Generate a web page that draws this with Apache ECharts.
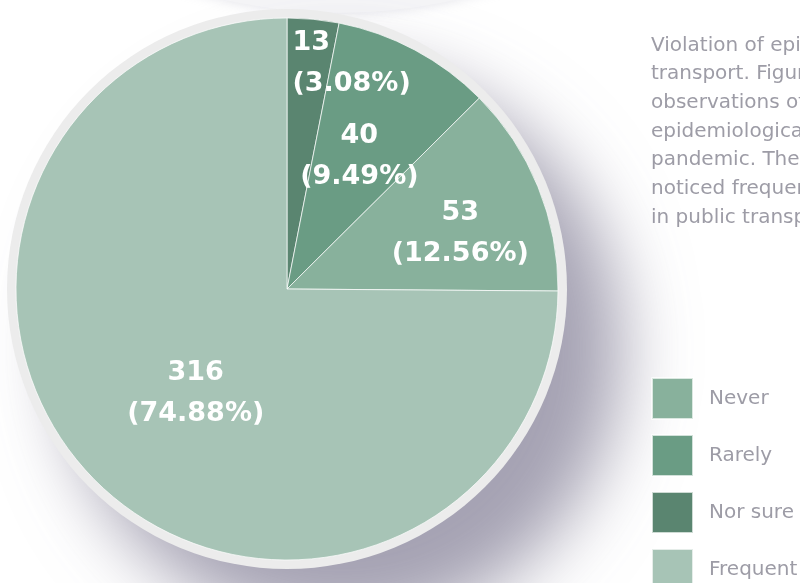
<!DOCTYPE html>
<html>
<head>
<meta charset="utf-8">
<script src="https://cdn.jsdelivr.net/npm/echarts@6/dist/echarts.min.js"></script>
<style>
  html, body { margin: 0; padding: 0; background: #ffffff; }
  #chart { width: 800px; height: 583px; }
</style>
</head>
<body>
<div id="chart"></div>
<script>
// Categories in drawing order (clockwise from 12 o'clock)
const categories = ['Nor sure', 'Rarely', 'Never', 'Frequent'];
const counts = [13, 40, 53, 316];
const percents = ['3.08', '9.49', '12.56', '74.88'];
const colors = ['#5a8570', '#6a9c84', '#88b19c', '#a7c4b6'];
// Legend order
const legendOrder = ['Never', 'Rarely', 'Nor sure', 'Frequent'];
// Per-slice label nudges away from the default inside spot
const labelOffsets = [[-8, -88], [7, -10], [45, -3], [7, 7]];
const labelAligns = ['left', 'center', 'center', 'center'];

const paragraph = [
  'Violation of epidemiological measures in public',
  'transport. Figure shows the respondents\'',
  'observations of violations of the',
  'epidemiological measures during the',
  'pandemic. The majority of respondents',
  'noticed frequent violations of the measures',
  'in public transport.'
];

const CENTER = [287, 289];
const BODY_FONT = '"DejaVu Sans", Verdana, sans-serif';

const chart = echarts.init(document.getElementById('chart'), null, { renderer: 'canvas' });

chart.setOption({
  animation: false,
  backgroundColor: '#ffffff',
  legend: {
    orient: 'vertical',
    left: 651,
    top: 377,
    height: 260,
    padding: 0,
    itemWidth: 41,
    itemHeight: 41,
    itemGap: 14,
    icon: 'rect',
    selectedMode: false,
    data: legendOrder,
    textStyle: {
      color: '#9d9ca6',
      fontSize: 20,
      fontFamily: BODY_FONT,
      padding: [0, 0, 0, 11]
    }
  },
  graphic: [
    {
      // pale decorative disc peeking in at the top edge
      type: 'circle',
      silent: true,
      z: -1,
      shape: { cx: 340, cy: -502, r: 515 },
      style: {
        fill: '#f5f5f7',
        shadowBlur: 12,
        shadowColor: 'rgba(220,220,228,0.8)'
      }
    },
    {
      type: 'text',
      left: 651,
      top: 31,
      silent: true,
      style: {
        text: paragraph.join('\n'),
        fill: '#9d9ca6',
        font: '20px ' + BODY_FONT,
        lineHeight: 28.7
      }
    }
  ],
  series: [
    {
      // backing disc: grey rim and the drop shadow
      type: 'pie',
      silent: true,
      center: CENTER,
      radius: [0, 280],
      label: { show: false },
      labelLine: { show: false },
      itemStyle: {
        color: '#ececec',
        shadowBlur: 70,
        shadowColor: 'rgba(105, 100, 128, 0.6)',
        shadowOffsetX: 55,
        shadowOffsetY: 60
      },
      data: [{ value: 1, name: '' }],
      z: 1
    },
    {
      type: 'pie',
      center: CENTER,
      radius: [0, 271],
      startAngle: 90,
      clockwise: true,
      avoidLabelOverlap: false,
      silent: true,
      itemStyle: {
        borderColor: 'rgba(255,255,255,0.7)',
        borderWidth: 1
      },
      label: {
        show: true,
        position: 'inside',
        color: '#ffffff',
        fontFamily: '"DejaVu Sans", sans-serif',
        fontWeight: 'bold',
        fontSize: 27,
        lineHeight: 41,
        formatter: (p) => counts[p.dataIndex] + '\n(' + percents[p.dataIndex] + '%)'
      },
      labelLayout: (p) => ({
        dx: labelOffsets[p.dataIndex][0],
        dy: labelOffsets[p.dataIndex][1],
        align: labelAligns[p.dataIndex],
        hideOverlap: false,
        moveOverlap: null
      }),
      labelLine: { show: false },
      data: categories.map((name, i) => ({
        name: name,
        value: counts[i],
        itemStyle: { color: colors[i] }
      })),
      z: 2
    }
  ]
});
</script>
</body>
</html>
